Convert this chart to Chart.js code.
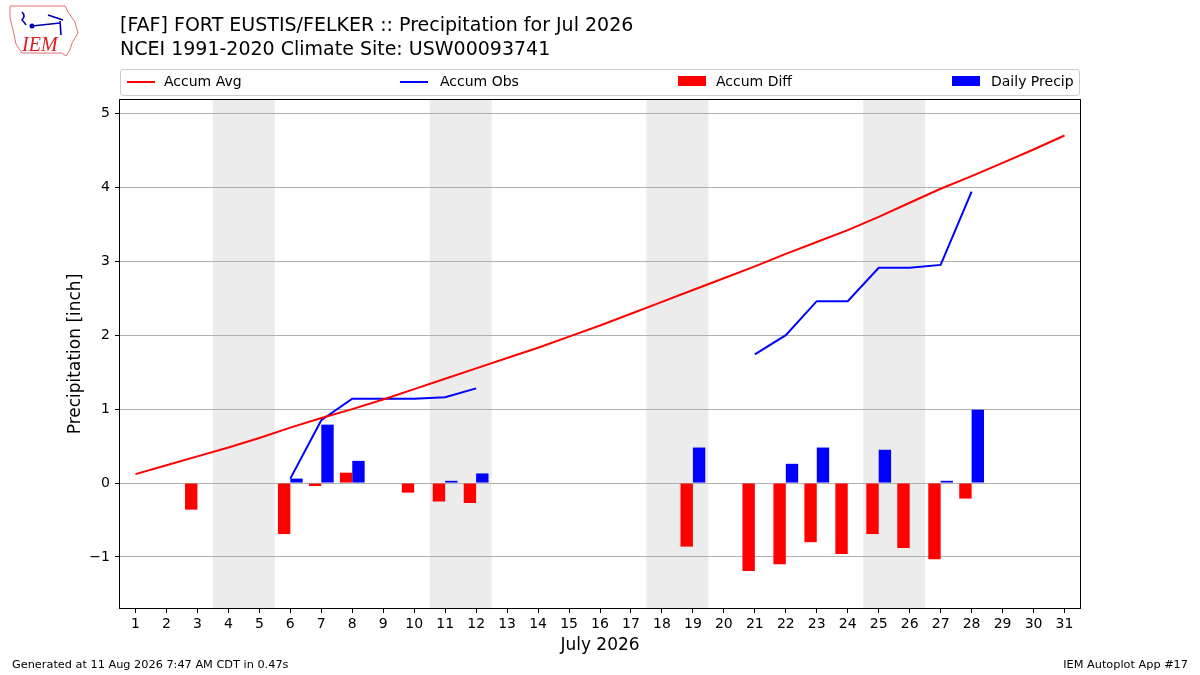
<!DOCTYPE html>
<html>
<head>
<meta charset="utf-8">
<script src="https://cdn.jsdelivr.net/npm/chart.js@4.4.1/dist/chart.umd.min.js"></script>
<style>
body { margin: 0; background: #fff; font-family: "DejaVu Sans", sans-serif; }
#wrap { position: relative; width: 1200px; height: 675px; overflow: hidden; }
#c { position: absolute; left: 0; top: 0; }
.t { position: absolute; white-space: nowrap; color: #000; }
#legend { position: absolute; left: 120px; top: 69px; width: 958px; height: 25px; border: 1px solid #cccccc; border-radius: 3px; }
.sw { position: absolute; width: 28px; }
.lt { position: absolute; top: 3px; font-size: 14px; }
</style>
</head>
<body>
<div id="wrap">
<canvas id="c" width="1200" height="675"></canvas>
<svg class="t" style="left:0;top:0" width="100" height="70" viewBox="0 0 100 70">
  <path d="M10 6 L65 6 L68 12 L75 22 L78 33 L72 43 L70 50 L66 56 L62 53 L22 53 L16 44 L13 30 L10 18 Z" fill="none" stroke="#e07070" stroke-width="1"/>
  <path d="M22 12 Q26 16 22 20 Q25 23 26 25 M32 26 L60 23 M60 21 L61 35 M48 15 L63 20" fill="none" stroke="#0000b0" stroke-width="1.6"/>
  <circle cx="32" cy="26" r="2.5" fill="#0000b0"/>
  <text x="22" y="51" font-family="Liberation Serif, serif" font-style="italic" font-size="20" fill="#d82020">IEM</text>
</svg>
<div class="t" style="left:120px;top:13px;font-size:19px">[FAF] FORT EUSTIS/FELKER :: Precipitation for Jul 2026</div>
<div class="t" style="left:120px;top:37px;font-size:19px">NCEI 1991-2020 Climate Site: USW00093741</div>
<div id="legend">
  <div class="sw" style="left:6px;top:11px;height:2px;background:#ff0000"></div>
  <div class="lt" style="left:43px">Accum Avg</div>
  <div class="sw" style="left:279px;top:11px;height:2px;background:#0000ff"></div>
  <div class="lt" style="left:319px">Accum Obs</div>
  <div class="sw" style="left:557px;top:6px;height:10px;background:#ff0000"></div>
  <div class="lt" style="left:595px">Accum Diff</div>
  <div class="sw" style="left:831px;top:6px;height:10px;background:#0000ff"></div>
  <div class="lt" style="left:870px">Daily Precip</div>
</div>
<div class="t" style="left:12px;top:658px;font-size:11.3px">Generated at 11 Aug 2026 7:47 AM CDT in 0.47s</div>
<div class="t" style="right:12px;top:658px;font-size:11.3px">IEM Autoplot App #17</div>
</div>
<script>
// days of July
var days = [];
for (var d = 1; d <= 31; d++) days.push(String(d));

// climatology accumulated precip (inch)
var accumAvg = [0.12, 0.24, 0.36, 0.48, 0.61, 0.75, 0.88, 1.00, 1.13, 1.27,
                1.41, 1.55, 1.69, 1.83, 1.98, 2.13, 2.29, 2.45, 2.61, 2.77,
                2.93, 3.10, 3.26, 3.42, 3.60, 3.79, 3.98, 4.15, 4.33, 4.51, 4.70];

// observed accumulated precip, gaps where missing
var accumObs = [null, null, null, null, null, 0.06, 0.85, 1.14, 1.14, 1.14,
                1.16, 1.28, null, null, null, null, null, null, null, null,
                1.74, 2.00, 2.46, 2.46, 2.91, 2.91, 2.95, 3.94, null, null, null];

// obs minus avg
var accumDiff = [null, null, -0.36, null, null, -0.69, -0.04, 0.14, null, -0.13,
                 -0.25, -0.27, null, null, null, null, null, null, -0.86, null,
                 -1.19, -1.10, -0.80, -0.96, -0.69, -0.88, -1.03, -0.21, null, null, null];

var dailyPrecip = [null, null, null, null, null, 0.06, 0.79, 0.30, null, null,
                   0.03, 0.13, null, null, null, null, null, null, 0.48, null,
                   null, 0.26, 0.48, null, 0.45, null, 0.03, 0.99, null, null, null];

var weekends = [[4, 5], [11, 12], [18, 19], [25, 26]];
var yTicks = [-1, 0, 1, 2, 3, 4, 5];

Chart.defaults.font.family = '"DejaVu Sans", sans-serif';
Chart.defaults.font.size = 14;
Chart.defaults.color = '#000';

var shading = {
  id: 'shading',
  beforeDraw: function (chart) {
    var ctx = chart.ctx, a = chart.chartArea, x = chart.scales.x;
    ctx.save();
    ctx.fillStyle = '#ececec';
    weekends.forEach(function (w) {
      var x0 = x.getPixelForValue(w[0] - 1.5);
      var x1 = x.getPixelForValue(w[1] - 0.5);
      ctx.fillRect(x0, a.top, x1 - x0, a.bottom - a.top);
    });
    ctx.restore();
  },
  afterDraw: function (chart) {
    var ctx = chart.ctx, a = chart.chartArea;
    ctx.save();
    ctx.strokeStyle = '#000';
    ctx.lineWidth = 1;
    ctx.strokeRect(a.left - 0.5, a.top - 0.5, a.right - a.left + 1, a.bottom - a.top + 1);
    ctx.restore();
  }
};

new Chart(document.getElementById('c'), {
  data: {
    labels: days,
    datasets: [
      { type: 'line', label: 'Accum Avg', data: accumAvg, borderColor: '#ff0000', borderWidth: 2,
        pointRadius: 0, tension: 0, order: 0 },
      { type: 'line', label: 'Accum Obs', data: accumObs, borderColor: '#0000ff', borderWidth: 2,
        pointRadius: 0, tension: 0, spanGaps: false, order: 0 },
      { type: 'bar', label: 'Accum Diff', data: accumDiff, backgroundColor: '#ff0000',
        barPercentage: 1, categoryPercentage: 0.8, order: 1 },
      { type: 'bar', label: 'Daily Precip', data: dailyPrecip, backgroundColor: '#0000ff',
        barPercentage: 1, categoryPercentage: 0.8, order: 1 }
    ]
  },
  options: {
    responsive: false,
    animation: false,
    devicePixelRatio: 1,
    layout: { padding: { left: 0, right: 120, top: 100, bottom: 0 } },
    plugins: { legend: { display: false }, tooltip: { enabled: false } },
    scales: {
      x: {
        type: 'category',
        offset: true,
        grid: { offset: false, drawOnChartArea: false, tickLength: 5, tickColor: '#000' },
        border: { display: false },
        ticks: { padding: 3, maxRotation: 0, autoSkip: false, font: { size: 14 } },
        title: { display: true, text: 'July 2026', font: { size: 17 }, padding: { top: 0, bottom: 19 } },
        afterFit: function (s) { s.height = 67; }
      },
      y: {
        min: -1.69,
        max: 5.18,
        grid: { color: '#b0b0b0', lineWidth: 1, tickLength: 5, tickColor: '#000' },
        border: { display: false },
        afterBuildTicks: function (s) { s.ticks = yTicks.map(function (v) { return { value: v }; }); },
        ticks: {
          padding: 5,
          font: { size: 14 },
          callback: function (v) { return v < 0 ? '\u2212' + Math.abs(v) : String(v); }
        },
        title: { display: true, text: 'Precipitation [inch]', font: { size: 17 }, padding: { top: 65, bottom: 0 } },
        afterFit: function (s) { s.width = 120; }
      }
    }
  },
  plugins: [shading]
});
</script>
</body>
</html>
